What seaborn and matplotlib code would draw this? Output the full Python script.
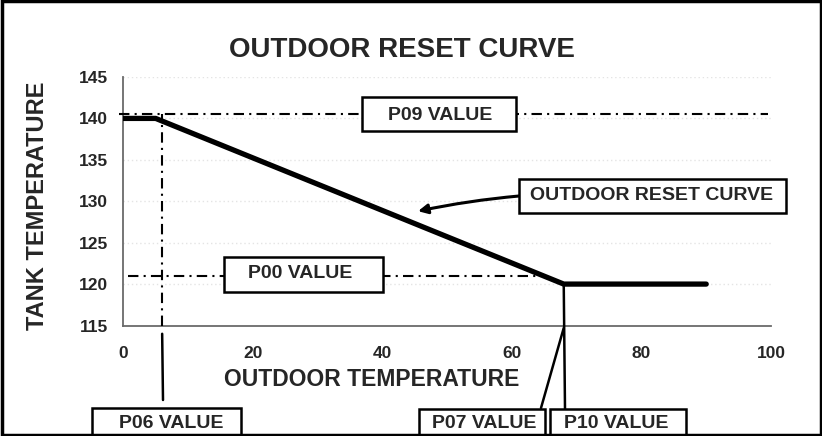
import matplotlib
matplotlib.use("Agg")
import matplotlib.pyplot as plt
from matplotlib.patches import Rectangle
import seaborn as sns
import pandas as pd

# Reset curve: outdoor temperature vs. tank setpoint
outdoor_temp = [0, 5, 68, 90]
tank_temp = [140, 140, 120, 120]

# Parameter reference lines
p09_value = 140.5   # max tank temperature
p00_value = 121     # min tank temperature
p06_value = 6       # outdoor temp where reset starts
p07_p10_value = 68  # outdoor temp where reset ends

x_ticks = [0, 20, 40, 60, 80, 100]
y_ticks = [115, 120, 125, 130, 135, 140, 145]

sns.set_style("white")
plt.rcParams["font.family"] = ["Liberation Sans", "DejaVu Sans"]
plt.rcParams["font.weight"] = "bold"

W, H = 822, 436
fig = plt.figure(figsize=(W / 100, H / 100), dpi=100)
ax = fig.add_axes([123.3 / W, 1 - 325.5 / H, (771 - 123.3) / W, (325.5 - 77) / H])

df = pd.DataFrame({"outdoor": outdoor_temp, "tank": tank_temp})
sns.lineplot(data=df, x="outdoor", y="tank", ax=ax, color="black", lw=3.8,
             solid_capstyle="round", solid_joinstyle="round", zorder=5)

ax.set_xlim(0, 100)
ax.set_ylim(115, 145)
ax.set_xticks(x_ticks)
ax.set_yticks(y_ticks)
ax.tick_params(length=0, labelsize=12.5)
ax.tick_params(axis="x", pad=15)
ax.tick_params(axis="y", pad=11)
for lab in ax.get_xticklabels() + ax.get_yticklabels():
    lab.set_fontweight("bold")
ax.set_xlabel("")
ax.set_ylabel("")

# faint dotted grid
for yv in y_ticks[1:]:
    ax.axhline(yv, color="#e4e4e4", lw=1, ls=(0, (1, 2)), zorder=0)

for side in ["top", "right"]:
    ax.spines[side].set_visible(False)
for side in ["left", "bottom"]:
    ax.spines[side].set_color("#6a6a6a")
    ax.spines[side].set_linewidth(1.3)

dashdot = (0, (5, 2.5, 1, 2.5))
ax.plot([-0.6, 99.5], [p09_value, p09_value], color="black", lw=1.5, ls=dashdot, clip_on=False, zorder=3)
ax.plot([0.8, 64.5], [p00_value, p00_value], color="black", lw=1.5, ls=dashdot, zorder=3)
ax.plot([p06_value, p06_value], [115, p09_value], color="black", lw=1.5, ls=dashdot, zorder=3)

# leader lines down to the parameter boxes
leader = dict(arrowstyle="-", lw=1.8, color="black", shrinkA=0, shrinkB=0)
ax.annotate("", xy=(p06_value, 114.0), xycoords="data",
            xytext=(163, H - 400), textcoords="figure pixels",
            arrowprops=leader, annotation_clip=False)
ax.annotate("", xy=(p07_p10_value, 120), xycoords="data",
            xytext=(565, H - 409), textcoords="figure pixels",
            arrowprops=leader, annotation_clip=False)
ax.annotate("", xy=(p07_p10_value, 114.7), xycoords="data",
            xytext=(541, H - 408), textcoords="figure pixels",
            arrowprops=leader, annotation_clip=False)

# arrow pointing at the curve
ax.annotate("", xy=(45.5, 128.8), xycoords="data",
            xytext=(519, H - 196), textcoords="figure pixels",
            arrowprops=dict(arrowstyle="-|>", lw=2.2, color="black",
                            mutation_scale=14, shrinkA=0, shrinkB=0,
                            connectionstyle="arc3,rad=0.03"),
            annotation_clip=False)


def box(x0, y0, x1, y1, label, tx, ty):
    fig.patches.append(Rectangle((x0 / W, 1 - y1 / H), (x1 - x0) / W, (y1 - y0) / H,
                                 transform=fig.transFigure, facecolor="white",
                                 edgecolor="black", lw=1.8, zorder=6))
    fig.text(tx / W, 1 - ty / H, label, ha="center", va="center",
             fontsize=14, fontweight="bold", zorder=7)


box(362, 97, 516, 131, "P09 VALUE", 440, 115)
box(224, 257, 383, 292, "P00 VALUE", 300, 273)
box(519, 179, 786, 213, "OUTDOOR RESET CURVE", 652, 196)
box(92, 408, 241, 445, "P06 VALUE", 171, 423)
box(419, 409, 545, 445, "P07 VALUE", 484, 423)
box(550, 409, 686, 445, "P10 VALUE", 616, 423)

fig.text(402 / W, 1 - 50 / H, "OUTDOOR RESET CURVE", ha="center", va="center",
         fontsize=20, fontweight="bold")
fig.text(372 / W, 1 - 379 / H, "OUTDOOR TEMPERATURE", ha="center", va="center",
         fontsize=16.5, fontweight="bold")
fig.text(37 / W, 1 - 206 / H, "TANK TEMPERATURE", ha="center", va="center",
         rotation=90, fontsize=17, fontweight="bold")

# outer frame
fig.patches.append(Rectangle((1.5 / W, 1.5 / H), (W - 3) / W, (H - 3) / H,
                             transform=fig.transFigure, fill=False,
                             edgecolor="black", lw=2.5, zorder=10))

fig.savefig("out.png", dpi=100)
